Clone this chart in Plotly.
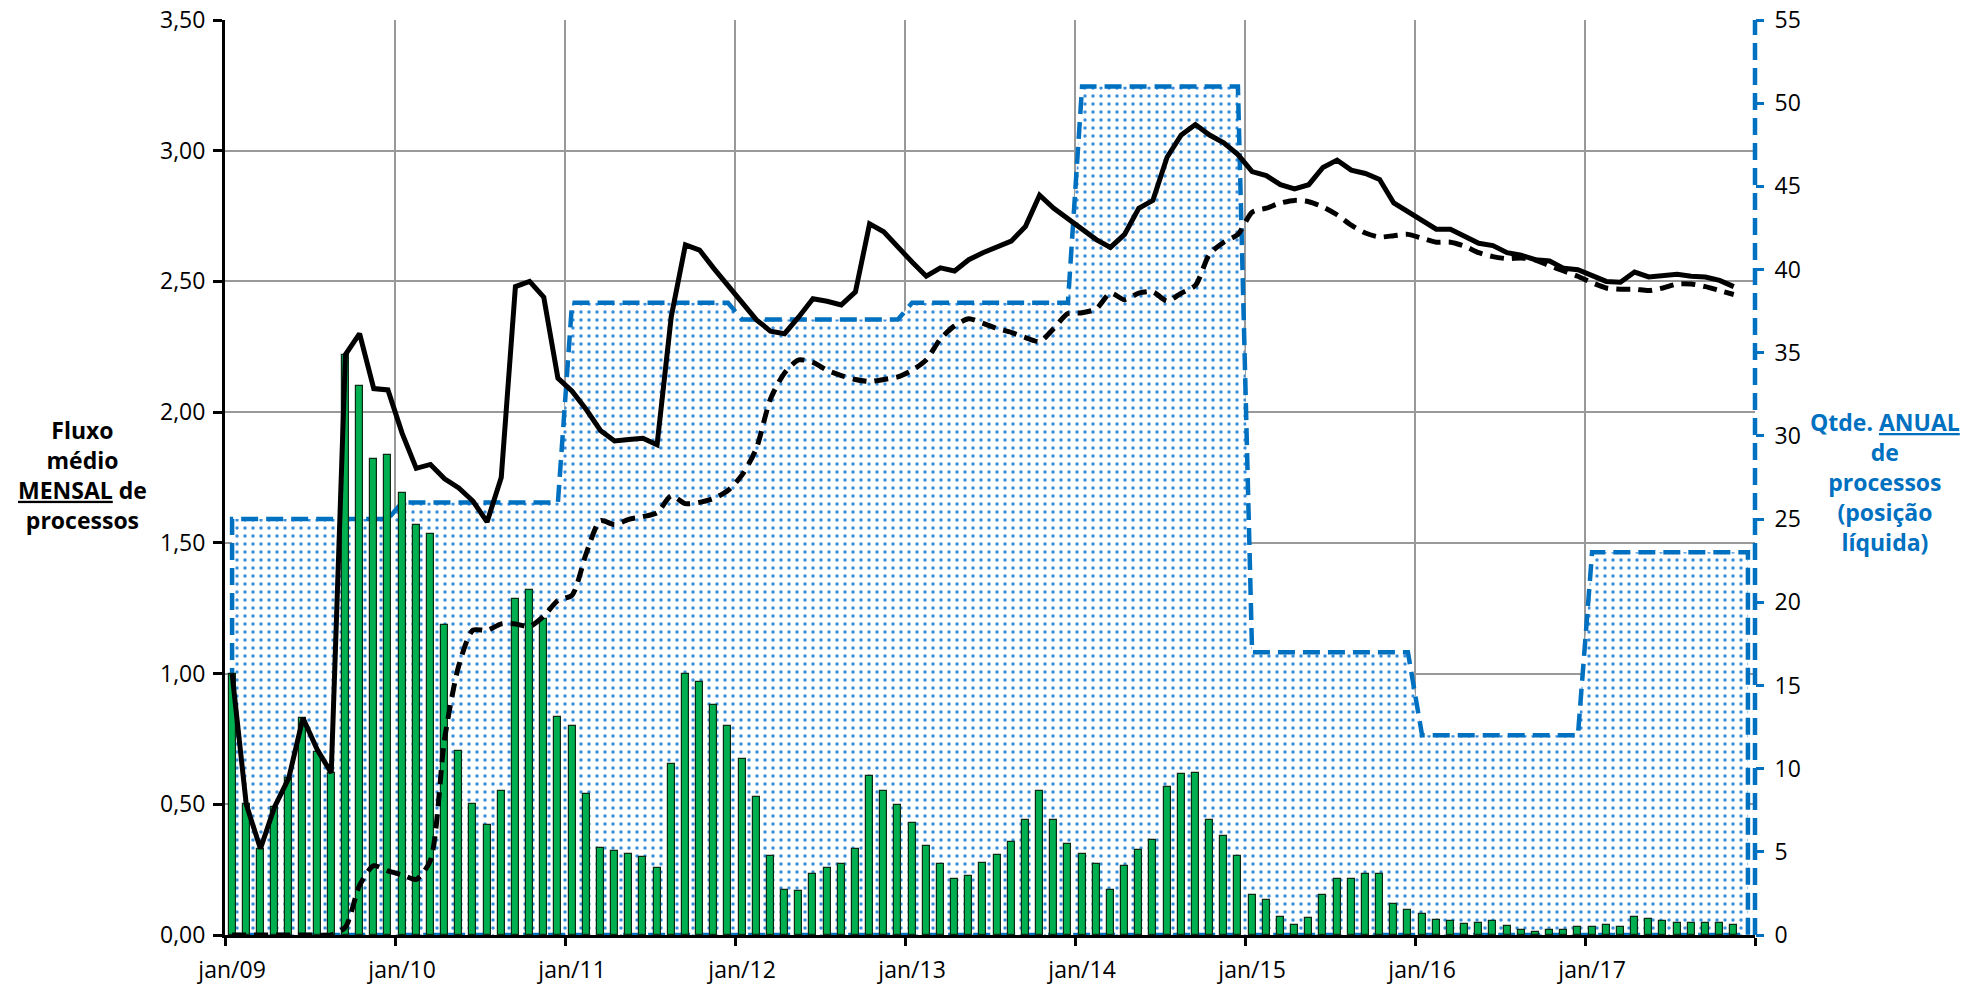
import plotly.graph_objects as go

# ---------------- data ----------------
year_labels = ["jan/09", "jan/10", "jan/11", "jan/12", "jan/13",
               "jan/14", "jan/15", "jan/16", "jan/17"]

# green bars: monthly flow (jan/09 .. nov/17), left axis
monthly_flow = [
    1.00, 0.50, 0.33, 0.49, 0.60, 0.83, 0.70, 0.62, 2.22, 2.10, 1.82, 1.835,
    1.69, 1.57, 1.535, 1.185, 0.705, 0.50, 0.42, 0.55, 1.285, 1.32, 1.21, 0.835,
    0.80, 0.54, 0.333, 0.321, 0.31, 0.30, 0.258, 0.655, 0.997, 0.968, 0.88, 0.80,
    0.674, 0.526, 0.304, 0.174, 0.167, 0.235, 0.256, 0.27, 0.33, 0.607, 0.552, 0.497,
    0.428, 0.34, 0.27, 0.213, 0.226, 0.275, 0.307, 0.356, 0.439, 0.55, 0.439, 0.35,
    0.308, 0.27, 0.174, 0.265, 0.324, 0.363, 0.565, 0.615, 0.621, 0.441, 0.379, 0.304,
    0.152, 0.133, 0.067, 0.039, 0.065, 0.154, 0.215, 0.215, 0.235, 0.232, 0.119, 0.095,
    0.082, 0.056, 0.054, 0.043, 0.046, 0.054, 0.033, 0.021, 0.010, 0.021, 0.021, 0.030,
    0.030, 0.039, 0.030, 0.069, 0.060, 0.054, 0.046, 0.046, 0.046, 0.046, 0.037,
]

# black solid line
solid_line = [
    1.00, 0.50, 0.33, 0.49, 0.60, 0.83, 0.71, 0.62, 2.22, 2.30, 2.09, 2.085,
    1.92, 1.785, 1.80, 1.745, 1.71, 1.66, 1.58, 1.75, 2.48, 2.50, 2.44, 2.13,
    2.08, 2.01, 1.93, 1.89, 1.895, 1.90, 1.875, 2.365, 2.64, 2.62, 2.55, 2.485,
    2.415, 2.354, 2.31, 2.30, 2.364, 2.434, 2.424, 2.41, 2.46, 2.72, 2.69, 2.63,
    2.574, 2.52, 2.552, 2.54, 2.583, 2.61, 2.63, 2.654, 2.71, 2.83, 2.78, 2.74,
    2.695, 2.66, 2.63, 2.68, 2.78, 2.81, 2.975, 3.06, 3.10, 3.06, 3.03, 2.985,
    2.92, 2.905, 2.87, 2.854, 2.87, 2.936, 2.964, 2.926, 2.913, 2.89, 2.80, 2.765,
    2.733, 2.70, 2.70, 2.675, 2.646, 2.637, 2.61, 2.60, 2.583, 2.578, 2.55, 2.545,
    2.52, 2.50, 2.497, 2.536, 2.517, 2.52, 2.527, 2.52, 2.517, 2.504, 2.48,
]

# black dashed line
dashed_line = [
    0.0, 0.0, 0.0, 0.0, 0.0, 0.0, 0.0, 0.0, 0.03, 0.19, 0.265, 0.245,
    0.23, 0.213, 0.285, 0.75, 1.03, 1.166, 1.165, 1.19, 1.19, 1.18, 1.22, 1.28,
    1.30, 1.46, 1.585, 1.57, 1.59, 1.60, 1.615, 1.68, 1.65, 1.655, 1.67, 1.70,
    1.76, 1.86, 2.05, 2.15, 2.20, 2.19, 2.16, 2.14, 2.125, 2.117, 2.125, 2.135,
    2.16, 2.20, 2.28, 2.33, 2.357, 2.34, 2.32, 2.305, 2.285, 2.27, 2.32, 2.377,
    2.38, 2.395, 2.455, 2.43, 2.455, 2.46, 2.425, 2.455, 2.485, 2.605, 2.65, 2.68,
    2.765, 2.78, 2.80, 2.81, 2.805, 2.785, 2.755, 2.715, 2.685, 2.67, 2.675, 2.68,
    2.665, 2.65, 2.65, 2.635, 2.61, 2.595, 2.587, 2.59, 2.582, 2.56, 2.54, 2.52,
    2.495, 2.475, 2.47, 2.47, 2.465, 2.475, 2.49, 2.49, 2.48, 2.465, 2.45,
]

# blue area: annual quantity (right axis), one value per year
annual_years = [2009, 2010, 2011, 2012, 2013, 2014, 2015, 2016, 2017]
annual_qty = [25, 26, 38, 37, 38, 51, 17, 12, 23]

# ---------------- derived series ----------------
n_months = len(annual_years) * 12
month_idx = list(range(len(monthly_flow)))
annual_monthly = [q for q in annual_qty for _ in range(12)]
area_x = [0] + list(range(n_months)) + [n_months - 1, 0]
area_y = [0] + annual_monthly + [0, 0]

label_vals = [12 * k for k in range(len(year_labels))]
boundary_vals = [12 * k - 0.5 for k in range(len(annual_years) + 1)]

BLUE = "#0070C0"
FONT = "Open Sans"
FS = 23

fig = go.Figure()

fig.add_trace(go.Scatter(
    x=area_x, y=area_y, yaxis="y", mode="lines", fill="toself",
    line=dict(color=BLUE, width=4.5, dash="17px,8px"),
    fillcolor="rgba(0,0,0,0)",
    fillpattern=dict(shape=".", fgcolor="#3A8EDB", bgcolor="white",
                     size=8, solidity=0.15, fillmode="replace"),
    hoverinfo="skip", showlegend=False,
))

fig.add_trace(go.Bar(
    x=month_idx, y=monthly_flow, yaxis="y2", width=0.5,
    marker=dict(color="#00B050", line=dict(color="#0b2a14", width=1.2)),
    showlegend=False,
))

fig.add_trace(go.Scatter(
    x=month_idx, y=solid_line, yaxis="y2", mode="lines",
    line=dict(color="black", width=5), showlegend=False,
))

fig.add_trace(go.Scatter(
    x=month_idx, y=dashed_line, yaxis="y2", mode="lines",
    line=dict(color="black", width=5, dash="14px,8px", shape="spline", smoothing=0.7),
    showlegend=False,
))

fig.update_layout(
    width=1988, height=985, autosize=False,
    margin=dict(l=225, r=233, t=20, b=50, pad=0),
    paper_bgcolor="white", plot_bgcolor="white",
    separators=",.",
    font=dict(family=FONT, size=FS, color="black"),
    bargap=0,
    xaxis=dict(
        range=[-0.5, n_months - 0.5], automargin=False,
        tickmode="array", tickvals=label_vals, ticktext=year_labels,
        ticks="", showgrid=False, zeroline=False,
        showline=True, linecolor="black", linewidth=3,
        ticklabelstandoff=12,
        tickfont=dict(family=FONT, size=FS, color="black"),
        minor=dict(tickmode="array", tickvals=boundary_vals, ticks="outside",
                   ticklen=8, tickwidth=2.5, tickcolor="black",
                   showgrid=True, gridcolor="#999999", gridwidth=1.6),
    ),
    yaxis=dict(
        range=[0, 55], tickmode="array", tickvals=list(range(0, 56, 5)),
        side="right", showgrid=False, zeroline=False, showline=False,
        automargin=False,
        ticks="outside", ticklen=8, tickwidth=3, tickcolor=BLUE,
        ticklabelstandoff=6,
        tickfont=dict(family=FONT, size=FS, color="black"),
    ),
    yaxis2=dict(
        range=[0, 3.5], tickmode="array", tickvals=[0.5 * k for k in range(8)],
        tickformat=".2f", overlaying="y", side="left", anchor="x",
        automargin=False,
        showgrid=True, gridcolor="#999999", gridwidth=1.6, zeroline=False,
        showline=True, linecolor="black", linewidth=3,
        ticks="outside", ticklen=9, tickwidth=3, tickcolor="black",
        ticklabelstandoff=3,
        tickfont=dict(family=FONT, size=FS, color="black"),
    ),
    shapes=[dict(type="line", xref="paper", yref="paper", x0=1, x1=1, y0=0, y1=1,
                 line=dict(color=BLUE, width=4.5, dash="17px,8px"), layer="above")],
    annotations=[
        dict(xref="paper", yref="paper", x=-0.093, y=0.503, showarrow=False,
             align="center", xanchor="center", yanchor="middle",
             text="<b>Fluxo<br>médio<br><u>MENSAL</u> de<br>processos</b>",
             font=dict(family=FONT, size=FS, color="black")),
        dict(xref="paper", yref="paper", x=1.085, y=0.495, showarrow=False,
             align="center", xanchor="center", yanchor="middle",
             text="<b>Qtde. <u>ANUAL</u><br>de<br>processos<br>(posição<br>líquida)</b>",
             font=dict(family=FONT, size=FS, color=BLUE)),
    ],
)

fig.write_html(
    "out.html",
    config={"displayModeBar": False},
    post_script="document.body.style.margin='0px';document.body.style.padding='0px';"
                "document.body.style.overflow='hidden';",
)
